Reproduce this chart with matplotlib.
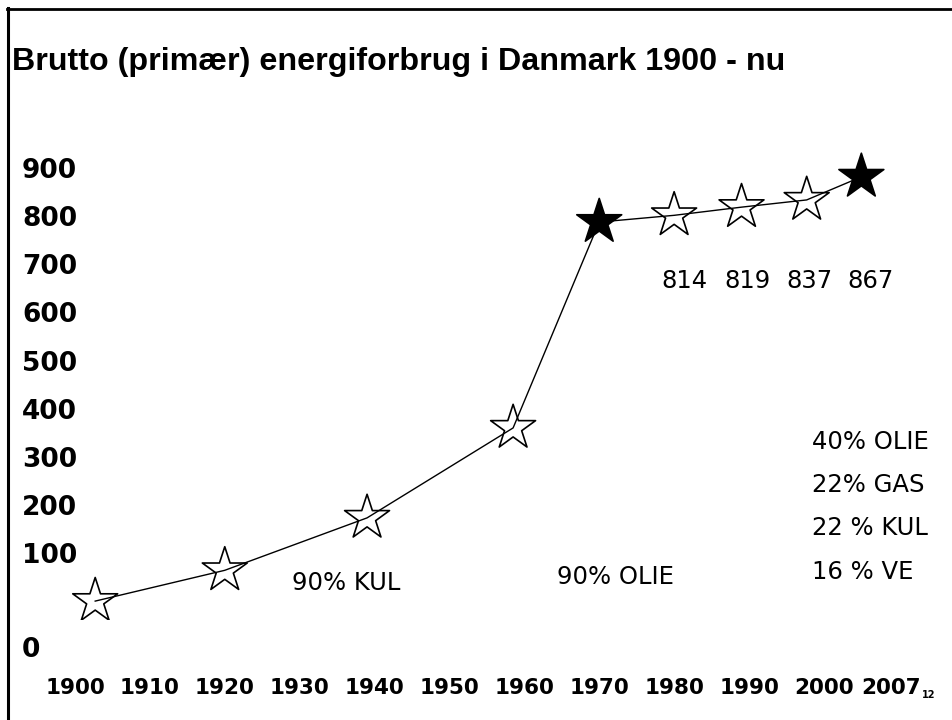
import matplotlib
matplotlib.use("Agg")
import matplotlib.pyplot as plt
from matplotlib.lines import Line2D

W, H = 952, 720

# gross energy use (PJ)
years = [1902.7, 1920, 1939, 1958.5, 1970, 1980, 1989, 1997.7, 2005]
energy = [0, 64, 173, 360, 788, 802, 819, 834, 882]
filled = [False, False, False, False, True, False, False, False, True]

tick_years = [1900, 1910, 1920, 1930, 1940, 1950, 1960, 1970, 1980, 1990, 2000, 2009]
tick_labels = ['1900', '1910', '1920', '1930', '1940', '1950', '1960', '1970',
               '1980', '1990', '2000', '2007']
y_ticks = [100, 200, 300, 400, 500, 600, 700, 800, 900]

late_values = ['814', '819', '837', '867']
mix_now = ['40% OLIE', '22% GAS', '22 % KUL', '16 % VE']
title = 'Brutto (primær) energiforbrug i Danmark 1900 - nu'


def fx(px):
    return px / W


def fy(py):
    return 1 - py / H


def main():
    fig = plt.figure(figsize=(W / 100, H / 100), dpi=100)
    ax = fig.add_axes([fx(60), fy(620), (940 - 60) / W, (620 - 150) / H])
    ax.set_xlim(1898.0, 2015.5)
    ax.set_ylim(-39.3, 937.8)
    for s in ax.spines.values():
        s.set_visible(False)

    face = ['black' if f else 'white' for f in filled]
    ax.scatter(years, energy, marker='*', s=34 ** 2, c=face,
               edgecolors='black', linewidths=1.2, zorder=2)
    ax.plot(years, energy, color='black', lw=1.0, zorder=3)

    ax.set_xticks(tick_years, tick_labels, fontsize=15.5, fontweight='bold')
    ax.set_yticks(y_ticks, [str(v) for v in y_ticks], fontsize=19, fontweight='bold')
    ax.tick_params(length=0)
    ax.tick_params(axis='x', pad=49)
    ax.tick_params(axis='y', pad=27.4)
    for t in ax.get_xticklabels():
        t.set_va('center')
    for t in ax.get_yticklabels():
        t.set_ha('left')

    # stray labels of the slide
    fig.text(fx(22), fy(650), '0', fontsize=19, fontweight='bold', ha='left', va='center')
    fig.text(fx(922), fy(695), '12', fontsize=7, fontweight='bold', ha='left', va='center')

    fig.text(fx(12), fy(62), title, fontsize=23.2, fontweight='bold',
             family='Liberation Sans', ha='left', va='center')

    for lab, px in zip(late_values, [684, 747, 810, 871]):
        fig.text(fx(px), fy(281), lab, fontsize=17.5, ha='center', va='center')
    fig.text(fx(292), fy(583), '90% KUL', fontsize=17.5, ha='left', va='center')
    fig.text(fx(557), fy(577), '90% OLIE', fontsize=17.5, ha='left', va='center')
    for lab, py in zip(mix_now, [442, 485, 528, 572]):
        fig.text(fx(812), fy(py), lab, fontsize=17.5, ha='left', va='center')

    # slide frame (top and left edges only)
    fig.add_artist(Line2D([fx(7), 1], [fy(9), fy(9)], color='black', lw=2))
    fig.add_artist(Line2D([fx(7.5), fx(7.5)], [fy(8), 0], color='black', lw=2.2))

    fig.savefig('out.png', dpi=100, facecolor='white')


if __name__ == '__main__':
    main()
